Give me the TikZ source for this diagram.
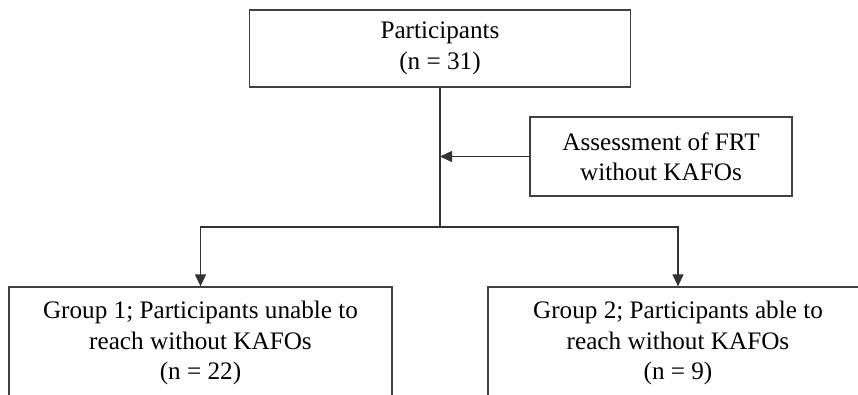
\documentclass[tikz,border=0pt]{standalone}
\usepackage{fontspec}
\setmainfont{Liberation Serif}
\usetikzlibrary{arrows.meta}
\begin{document}
\begin{tikzpicture}[x=1pt,y=-1pt,
  box/.style={draw=black!75,line width=1.3pt,align=center,inner sep=0pt,
    font=\fontsize{25.2}{30.5}\selectfont},
  conn/.style={draw=black!80,line width=1.3pt},
  arr/.style={conn,-{Triangle[width=11pt,length=12pt]}}]
\useasboundingbox (0,0) rectangle (858,394);
\clip (0,0) rectangle (858,394);
\node[box,minimum width=381pt,minimum height=77pt] (top) at (440,48.5) {Participants\\(n = 31)};
\node[box,minimum width=262pt,minimum height=79pt] (assess) at (661,156.5) {Assessment of FRT\\without KAFOs};
\node[box,minimum width=383pt,minimum height=112pt] (g1) at (200.5,343) {Group 1; Participants unable to\\reach without KAFOs\\(n = 22)};
\node[box,minimum width=380pt,minimum height=112pt] (g2) at (678,343) {Group 2; Participants able to\\reach without KAFOs\\(n = 9)};
\coordinate (split) at (440,227);
\draw[conn] (top.south) -- (split);
\draw[arr] (assess.west) -- (assess.west -| top.south);
\draw[arr] (split) -| (g1.north);
\draw[arr] (split) -| (g2.north);
\end{tikzpicture}
\end{document}
